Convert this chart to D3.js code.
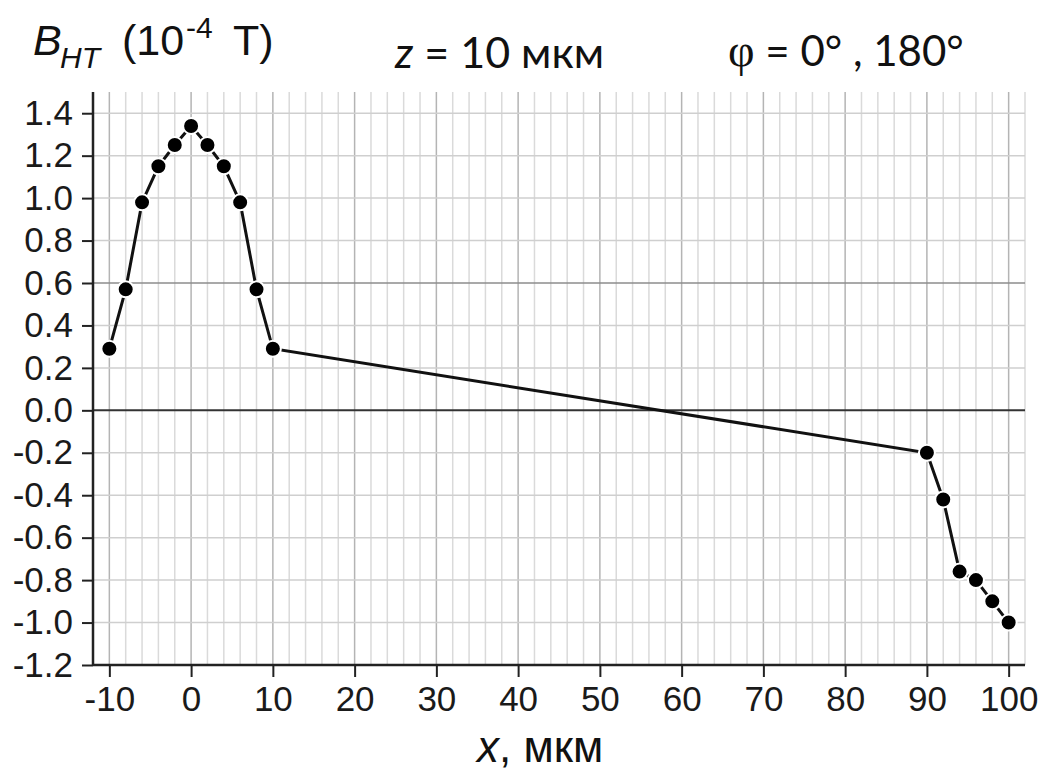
<!DOCTYPE html>
<html>
<head>
<meta charset="utf-8">
<script src="https://cdn.jsdelivr.net/npm/d3@7/dist/d3.min.js"></script>
<style>
  body { margin: 0; background: #fff; }
  svg { display: block; }
</style>
</head>
<body>
<script>
(function(){
    var width = 1046,
        height = 775;

    // data: x (мкм) and B_HT (10^-4 T)
    var xValues = [-10, -8, -6, -4, -2, 0, 2, 4, 6, 8, 10, 90, 92, 94, 96, 98, 100];
    var bValues = [0.29, 0.57, 0.98, 1.15, 1.25, 1.34, 1.25, 1.15, 0.98, 0.57, 0.29,
                   -0.20, -0.42, -0.76, -0.80, -0.90, -1.00];

    var xTicks = [-10, 0, 10, 20, 30, 40, 50, 60, 70, 80, 90, 100];
    var xMinorTicks = d3.range(-12, 103, 2);
    var yTicks = [-1.2, -1.0, -0.8, -0.6, -0.4, -0.2, 0.0, 0.2, 0.4, 0.6, 0.8, 1.0, 1.2, 1.4];
    var yMinorTicks = d3.range(-12, 15, 1).map(function(d){ return d / 10; });

    var left = 93, right = 1025, top = 92, bottom = 665;

    var x = d3.scaleLinear().domain([-12, 102]).range([left, right]);
    var y = d3.scaleLinear().domain([-1.2, 1.5]).range([bottom, top]);

    var svg = d3.select("body").append("svg")
                .attr("width", width)
                .attr("height", height);

    //网格 vertical
    svg.append("g")
       .selectAll("line")
       .data(xMinorTicks.filter(function(d){ return d > -12; }))
       .enter().append("line")
       .attr("x1", function(d){ return x(d); })
       .attr("x2", function(d){ return x(d); })
       .attr("y1", top)
       .attr("y2", bottom)
       .attr("stroke", function(d){ return d % 10 === 0 ? "#b4b4b4" : "#dadada"; })
       .attr("stroke-width", 1.5);

    //网格 horizontal
    svg.append("g")
       .selectAll("line")
       .data(yTicks.filter(function(d){ return d > -1.2; }))
       .enter().append("line")
       .attr("x1", left)
       .attr("x2", right)
       .attr("y1", function(d){ return y(d); })
       .attr("y2", function(d){ return y(d); })
       .attr("stroke", function(d){
           if (Math.abs(d) < 1e-9) return "#333";
           if (Math.abs(d - 0.6) < 1e-9) return "#8c8c8c";
           return "#cfcfcf";
       })
       .attr("stroke-width", function(d){ return Math.abs(d) < 1e-9 ? 2 : 1.5; });

    // axes
    var xAxis = d3.axisBottom(x)
                  .tickValues(xTicks)
                  .tickSize(12)
                  .tickPadding(9)
                  .tickFormat(function(d){ return d; });

    var xMinor = d3.axisBottom(x)
                   .tickValues(xMinorTicks.filter(function(d){ return d % 10 !== 0; }))
                   .tickSize(6)
                   .tickFormat("");

    var yAxis = d3.axisLeft(y)
                  .tickValues(yTicks)
                  .tickSize(11)
                  .tickPadding(9)
                  .tickFormat(function(d){ return d.toFixed(1); });

    var yMinor = d3.axisLeft(y)
                   .tickValues(yMinorTicks.filter(function(d){ return yTicks.indexOf(d) < 0; }))
                   .tickSize(5)
                   .tickFormat("");

    var gx = svg.append("g").attr("transform", "translate(0," + bottom + ")");
    gx.call(xMinor);
    gx.call(xAxis);

    var gy = svg.append("g").attr("transform", "translate(" + left + ",0)");
    gy.call(yMinor);
    gy.call(yAxis);

    svg.selectAll(".domain").remove();
    svg.selectAll(".tick line").attr("stroke", "#222").attr("stroke-width", 2);
    svg.selectAll(".tick text")
       .attr("fill", "#1a1a1a")
       .style("font-family", "'Liberation Sans', Arial, sans-serif")
       .style("font-size", "35px");

    // axis lines
    svg.append("line")
       .attr("x1", left).attr("x2", right)
       .attr("y1", bottom).attr("y2", bottom)
       .attr("stroke", "#222").attr("stroke-width", 2.5);
    svg.append("line")
       .attr("x1", left).attr("x2", left)
       .attr("y1", top).attr("y2", bottom)
       .attr("stroke", "#222").attr("stroke-width", 2.5);

    // data line
    var pts = xValues.map(function(d, i){ return [d, bValues[i]]; });
    var line = d3.line()
                 .x(function(d){ return x(d[0]); })
                 .y(function(d){ return y(d[1]); });

    svg.append("path")
       .attr("d", line(pts))
       .attr("fill", "none")
       .attr("stroke", "#111")
       .attr("stroke-width", 3);

    svg.append("g")
       .selectAll("circle")
       .data(pts)
       .enter().append("circle")
       .attr("cx", function(d){ return x(d[0]); })
       .attr("cy", function(d){ return y(d[1]); })
       .attr("r", 8)
       .attr("fill", "#000")
       .attr("stroke", "#fff")
       .attr("stroke-width", 2);

    // titles
    var t1 = svg.append("text")
                .attr("y", 55)
                .attr("fill", "#111")
                .style("font-family", "'Liberation Sans', Arial, sans-serif")
                .style("font-size", "43px");
    t1.append("tspan").attr("x", 33).style("font-style", "italic").text("B");
    t1.append("tspan").attr("x", 60).attr("y", 68).style("font-style", "italic").style("font-size", "30px").text("HT");
    t1.append("tspan").attr("x", 122).attr("y", 55).text("(10");
    t1.append("tspan").attr("x", 186).attr("y", 38).style("font-size", "30px").text("-4");
    t1.append("tspan").attr("x", 233).attr("y", 55).text("T)");

    var t2 = svg.append("text")
                .attr("x", 395)
                .attr("y", 68)
                .attr("fill", "#111")
                .style("font-family", "Lato, 'Open Sans', sans-serif")
                .style("font-size", "43px");
    t2.append("tspan").style("font-style", "italic").text("z");
    t2.append("tspan").text(" = 10 мкм");

    var t3 = svg.append("text")
                .attr("x", 728)
                .attr("y", 66)
                .attr("fill", "#111")
                .style("font-family", "Lato, 'Open Sans', sans-serif")
                .style("font-size", "42px");
    t3.append("tspan").style("font-family", "'Liberation Serif', 'DejaVu Serif', serif").style("font-size", "46px").text("φ");
    t3.append("tspan").text(" = 0° , 180°");

    var t4 = svg.append("text")
                .attr("x", 477)
                .attr("y", 762)
                .attr("fill", "#111")
                .style("font-family", "'Liberation Sans', Arial, sans-serif")
                .style("font-size", "44px");
    t4.append("tspan").style("font-style", "italic").text("x");
    t4.append("tspan").text(", мкм");
})();
</script>
</body>
</html>
